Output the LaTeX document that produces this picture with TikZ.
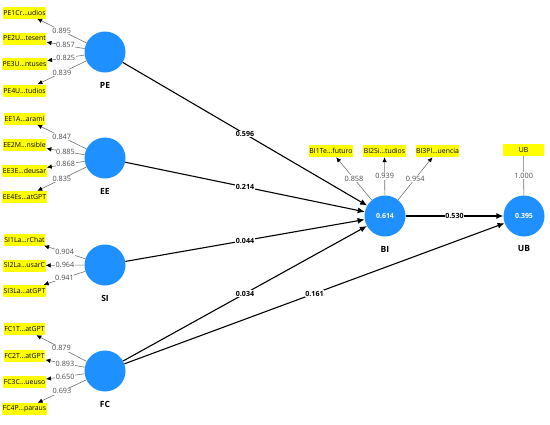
\documentclass[tikz,border=0pt]{standalone}
\usepackage{fontspec}
\setmainfont{Open Sans}
\usetikzlibrary{arrows.meta}
\definecolor{lvblue}{HTML}{1E90FF}
\definecolor{indyellow}{HTML}{FFFF00}
\begin{document}
\begin{tikzpicture}[x=1pt,y=-1pt,
 lv/.style={circle,fill=lvblue,minimum size=41pt,inner sep=0pt,text=white,font=\fontsize{7}{8}\selectfont\bfseries},
 ind/.style={fill=indyellow,minimum width=41pt,minimum height=12pt,inner sep=0.5pt,font=\fontsize{6.9}{7}\selectfont},
 lvname/.style={font=\fontsize{8.5}{9}\selectfont\bfseries},
 load/.style={draw=black!55,line width=0.6pt,-{Latex[length=5pt,width=4.5pt,color=black]}},
 loadplain/.style={draw=black!55,line width=0.6pt},
 loadlab/.style={fill=white,inner sep=0.6pt,text=black!70,font=\fontsize{7.3}{8}\selectfont},
 pathc/.style={draw=black,line width=1.1pt,-{Latex[length=7pt,width=6pt]}},
 pathlab/.style={fill=white,inner sep=0.6pt,font=\fontsize{7.1}{8}\selectfont\bfseries}]
\useasboundingbox (0,0) rectangle (550,424);

% latent variables
\node[lv] (PE) at (105,52) {};
\node[lv] (EE) at (105,158) {};
\node[lv] (SI) at (105,265) {};
\node[lv] (FC) at (105,371) {};
\node[lv] (BI) at (385,216) {0.614};
\node[lv] (UB) at (524,216) {0.395};

\node[lvname] (PEn) at (105,85) {PE};
\node[lvname] (EEn) at (105,191) {EE};
\node[lvname] (SIn) at (105,298) {SI};
\node[lvname] (FCn) at (105,404) {FC};
\node[lvname] (BIn) at (385,249) {BI};
\node[lvname] (UBn) at (524,249) {UB};

% indicators
\node[ind] (pe1) at (24.5,12.5) {PE1Cr…udios};
\node[ind] (pe2) at (24.5,38.5) {PE2U…tesent};
\node[ind] (pe3) at (24.5,64) {PE3U…ntuses};
\node[ind] (pe4) at (24.5,90.5) {PE4U…tudios};
\node[ind] (ee1) at (24.5,118.5) {EE1A…aramí};
\node[ind] (ee2) at (24.5,145) {EE2M…nsible};
\node[ind] (ee3) at (24.5,171) {EE3E…deusar};
\node[ind] (ee4) at (24.5,197) {EE4Es…atGPT};
\node[ind] (si1) at (24.5,239.5) {SI1La…rChat};
\node[ind] (si2) at (24.5,265.5) {SI2La…usarC};
\node[ind] (si3) at (24.5,291) {SI3La…atGPT};
\node[ind] (fc1) at (24.5,329) {FC1T…atGPT};
\node[ind] (fc2) at (24.5,356) {FC2T…atGPT};
\node[ind] (fc3) at (24.5,382) {FC3C…ueuso};
\node[ind] (fc4) at (24.5,409) {FC4P…paraus};
\node[ind] (bi1) at (331,151) {BI1Te…futuro};
\node[ind] (bi2) at (384.5,151) {BI2Si…tudios};
\node[ind] (bi3) at (437.5,151) {BI3Pl…uencia};
\node[ind] (ub1) at (523.5,150) {UB};

% loadings
\draw[load] (PE) -- node[loadlab]{0.895} (pe1);
\draw[load] (PE) -- node[loadlab]{0.857} (pe2);
\draw[load] (PE) -- node[loadlab]{0.825} (pe3);
\draw[load] (PE) -- node[loadlab]{0.839} (pe4);
\draw[load] (EE) -- node[loadlab]{0.847} (ee1);
\draw[load] (EE) -- node[loadlab]{0.885} (ee2);
\draw[load] (EE) -- node[loadlab]{0.868} (ee3);
\draw[load] (EE) -- node[loadlab]{0.835} (ee4);
\draw[load] (SI) -- node[loadlab]{0.904} (si1);
\draw[load] (SI) -- node[loadlab]{0.964} (si2);
\draw[load] (SI) -- node[loadlab]{0.941} (si3);
\draw[load] (FC) -- node[loadlab]{0.879} (fc1);
\draw[load] (FC) -- node[loadlab]{0.893} (fc2);
\draw[load] (FC) -- node[loadlab]{0.650} (fc3);
\draw[load] (FC) -- node[loadlab]{0.693} (fc4);
\draw[load] (BI) -- node[loadlab]{0.858} (bi1);
\draw[load] (BI) -- node[loadlab]{0.939} (bi2);
\draw[load] (BI) -- node[loadlab]{0.954} (bi3);
\draw[loadplain] (UB) -- node[loadlab]{1.000} (ub1);

% structural paths
\draw[pathc] (PE) -- node[pathlab]{0.596} (BI);
\draw[pathc] (EE) -- node[pathlab]{0.214} (BI);
\draw[pathc] (SI) -- node[pathlab]{0.044} (BI);
\draw[pathc] (FC) -- node[pathlab]{0.034} (BI);
\draw[pathc] (FC) -- node[pathlab]{0.161} (UB);
\draw[pathc] (BI) -- node[pathlab]{0.530} (UB);
\end{tikzpicture}
\end{document}
